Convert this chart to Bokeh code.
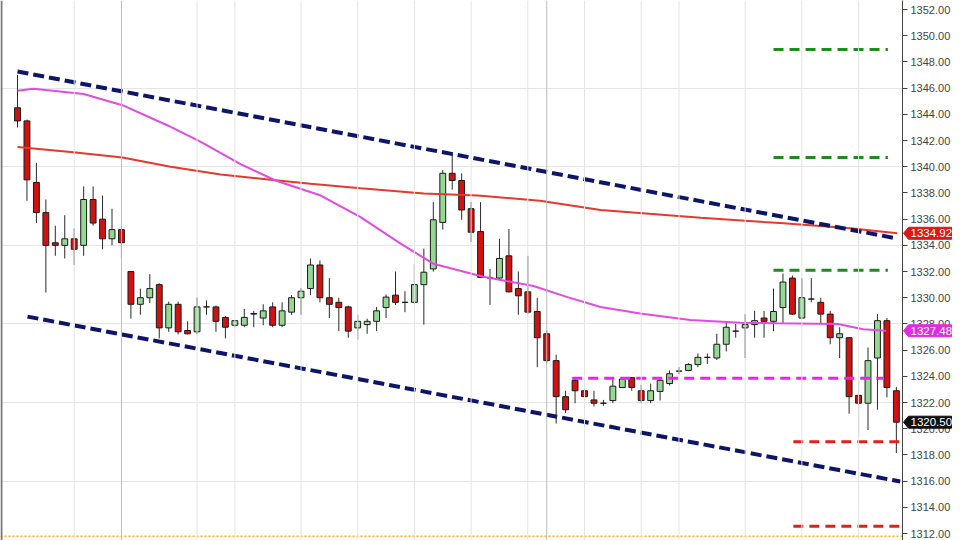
from bokeh.plotting import figure
from bokeh.models import Range1d, FixedTicker, Span, NumeralTickFormatter, GridBox
from bokeh.core.properties import value
from bokeh.embed import file_html
from bokeh.resources import INLINE

# ---- candle data (one candle per bar) ----
opens = [1344.5, 1343.5, 1338.8, 1336.5, 1334.2, 1334.0, 1334.5, 1334.0, 1337.5, 1336.0,
         1334.5, 1335.2, 1332.0, 1329.5, 1330.0, 1331.0, 1327.7, 1329.5, 1327.5, 1327.4,
         1329.3, 1329.3, 1328.5, 1327.9, 1327.9, 1328.75, 1328.45, 1329.3, 1327.9, 1328.9,
         1330.0, 1330.7, 1332.5, 1330.0, 1329.65, 1329.3, 1327.7, 1327.95, 1328.2, 1329.25,
         1330.2, 1329.65, 1329.65, 1331.0, 1332.2, 1335.75, 1339.5, 1338.95, 1336.8, 1335.05,
         1331.55, 1331.5, 1333.2, 1330.7, 1330.45, 1328.95, 1327.25, 1325.2, 1322.45, 1323.7,
         1322.9, 1322.2, 1321.95, 1322.15, 1323.15, 1323.9, 1322.9, 1322.15, 1322.85, 1323.45,
         1324.4, 1324.45, 1324.9, 1325.45, 1325.4, 1326.45, 1327.45, 1327.7, 1327.95, 1328.45,
         1328.2, 1329.25, 1331.5, 1328.45, 1329.9, 1329.65, 1328.75, 1326.95, 1326.95, 1322.55,
         1321.95, 1325.4, 1328.25, 1322.9]
highs = [1347.0, 1343.6, 1340.3, 1337.5, 1335.5, 1336.3, 1335.3, 1338.5, 1338.5, 1337.8,
         1336.8, 1335.5, 1332.0, 1330.7, 1331.8, 1331.1, 1329.7, 1329.7, 1328.2, 1330.0,
         1329.8, 1329.4, 1328.6, 1328.3, 1329.15, 1329.0, 1329.5, 1329.65, 1329.65, 1330.2,
         1330.75, 1333.0, 1332.85, 1331.5, 1330.0, 1329.4, 1328.7, 1328.4, 1329.3, 1330.25,
         1332.0, 1330.5, 1332.55, 1333.75, 1337.3, 1339.75, 1341.0, 1339.5, 1337.3, 1337.3,
         1332.2, 1334.5, 1335.25, 1332.0, 1333.2, 1330.0, 1327.5, 1325.65, 1322.9, 1323.9,
         1323.25, 1322.9, 1322.2, 1323.95, 1323.9, 1323.95, 1323.35, 1323.45, 1323.9, 1324.45,
         1324.7, 1325.0, 1325.75, 1325.75, 1327.25, 1328.15, 1328.0, 1328.75, 1329.0, 1329.0,
         1330.7, 1331.85, 1331.7, 1331.5, 1331.5, 1330.0, 1329.0, 1327.75, 1327.0, 1323.65,
         1326.2, 1328.75, 1328.45, 1323.2]
lows = [1343.0, 1337.4, 1335.7, 1330.4, 1333.2, 1333.0, 1332.5, 1333.2, 1335.5, 1333.7,
        1334.0, 1333.0, 1328.4, 1328.7, 1329.6, 1326.9, 1327.4, 1327.2, 1327.2, 1327.2,
        1328.7, 1327.4, 1326.9, 1327.75, 1327.75, 1327.75, 1327.9, 1327.75, 1327.75, 1328.7,
        1328.7, 1330.2, 1329.65, 1328.45, 1327.45, 1326.95, 1326.8, 1327.25, 1327.45, 1328.45,
        1329.45, 1328.9, 1329.5, 1327.95, 1332.0, 1335.2, 1338.25, 1335.95, 1334.25, 1331.5,
        1329.45, 1331.45, 1330.4, 1328.7, 1328.75, 1324.7, 1325.0, 1320.4, 1321.2, 1321.95,
        1321.95, 1321.7, 1321.75, 1321.95, 1323.15, 1322.9, 1321.95, 1321.95, 1322.15, 1323.3,
        1324.15, 1324.4, 1324.7, 1324.95, 1325.25, 1325.9, 1326.95, 1325.4, 1326.95, 1326.95,
        1327.45, 1328.0, 1328.7, 1328.45, 1329.65, 1328.0, 1326.45, 1325.4, 1321.15, 1319.4,
        1319.9, 1321.45, 1322.4, 1318.15]
closes = [1343.5, 1339.0, 1336.5, 1334.0, 1334.0, 1334.5, 1333.7, 1337.5, 1335.7, 1334.5,
          1335.2, 1334.2, 1329.5, 1330.0, 1330.7, 1327.7, 1329.5, 1327.4, 1327.25, 1329.3,
          1329.3, 1328.2, 1327.75, 1328.25, 1328.5, 1328.8, 1329.0, 1327.9, 1329.0, 1330.0,
          1330.5, 1332.5, 1330.0, 1329.5, 1329.25, 1327.45, 1328.2, 1328.2, 1329.0, 1330.05,
          1329.65, 1329.65, 1331.0, 1331.95, 1335.95, 1339.5, 1338.95, 1336.7, 1335.0, 1331.55,
          1331.5, 1333.0, 1330.45, 1330.15, 1328.9, 1326.95, 1325.2, 1322.45, 1321.45, 1322.9,
          1322.45, 1321.95, 1321.95, 1323.25, 1323.8, 1323.15, 1322.15, 1322.9, 1323.7, 1324.2,
          1324.4, 1324.9, 1325.45, 1325.45, 1326.45, 1327.75, 1327.45, 1327.95, 1328.25, 1328.2,
          1328.95, 1331.2, 1328.75, 1330.0, 1329.9, 1328.75, 1326.95, 1327.25, 1322.45, 1321.95,
          1325.2, 1328.25, 1323.15, 1320.5]

# ---- moving averages (bar index, price) ----
ma_slow_x = [0, 5.9, 11.1, 16.2, 21.5, 26.8, 31.0, 36.3, 43.0, 48.7, 55.3, 61.7, 72.3, 80.7, 88.1, 93.1]
ma_slow_y = [1341.5, 1341.1, 1340.7, 1340.0, 1339.4, 1339.0, 1338.7, 1338.35, 1337.95, 1337.8,
             1337.4, 1336.7, 1336.1, 1335.7, 1335.3, 1334.92]
ma_fast_x = [0, 1.7, 7.0, 11.1, 15.9, 19.4, 23.6, 27.3, 32.1, 36.3, 40.5, 44.0, 49.3, 54.6,
             58.2, 61.7, 65.9, 71.2, 76.5, 80.4, 86.8, 89.5, 91.9]
ma_fast_y = [1345.8, 1345.95, 1345.55, 1344.7, 1343.15, 1341.9, 1340.2, 1338.95, 1337.8, 1336.15,
             1334.15, 1332.6, 1331.6, 1330.9, 1330.05, 1329.3, 1328.8, 1328.3, 1328.1, 1328.05,
             1328.0, 1327.6, 1327.48]

# ---- channel lines ----
upper_x = [0, 93.1]
upper_y = [1347.27, 1334.52]
lower_x = [1.06, 93.4]
lower_y = [1328.56, 1315.97]

# ---- horizontal levels ----
green_levels = [1348.95, 1340.7, 1332.1]
green_span = [80.0, 92.1]
magenta_level = 1323.85
magenta_span = [58.7, 91.6]
red_levels = [1319.0, 1312.55]
red_span = [82.1, 93.6]
orange_level = 1311.8

# ---- axis / grid ----
y_ticks = list(range(1312, 1353, 2))
h_grid = [1316, 1322, 1328, 1334, 1340, 1346]
v_grid = [6, 19, 23, 30, 36, 42, 48, 54, 60, 66, 70, 77, 83, 89]
v_grid_dark = [11, 56]

# ---- last value tags ----
tag_values = [1334.92, 1327.48, 1320.50]
tag_colors = ["#dd1616", "#e02ce0", "#111111"]

X0, X1 = -1.8, 93.65
Y0, Y1 = 1311.47, 1352.69
PX_Y = 540.0 / (Y1 - Y0)

p = figure(width=960, height=540, output_backend="svg", toolbar_location=None,
           x_range=Range1d(X0, X1), y_range=Range1d(Y0, Y1),
           y_axis_location="right", x_axis_location=None,
           min_border_left=0, min_border_top=0, min_border_bottom=0, min_border_right=58)
p.outline_line_color = None
p.background_fill_color = "white"
p.border_fill_color = "white"
p.border_fill_alpha = 0

for g in p.xgrid:
    g.visible = False
p.ygrid.ticker = FixedTicker(ticks=h_grid)
p.ygrid.grid_line_color = "#e4e4e4"
p.ygrid.grid_line_width = 1

for v in v_grid:
    p.add_layout(Span(location=v, dimension="height", line_color="#e4e4e4", line_width=1))
for v in v_grid_dark:
    p.add_layout(Span(location=v, dimension="height", line_color="#bdbdbd", line_width=1))
p.add_layout(Span(location=X0 + 0.1, dimension="height", line_color="#777777", line_width=2))

ax = p.yaxis[0]
ax.ticker = FixedTicker(ticks=y_ticks)
ax.formatter = NumeralTickFormatter(format="0.00")
ax.axis_line_color = "#444444"
ax.major_tick_line_color = "#444444"
ax.major_tick_out = 5
ax.major_tick_in = 0
ax.minor_tick_line_color = None
ax.major_label_text_font = "Liberation Sans"
ax.major_label_text_font_size = "11px"
ax.major_label_text_color = "#444444"
ax.major_label_standoff = 3

# candles
idx = list(range(len(opens)))
tops = [max(o, c) for o, c in zip(opens, closes)]
bots = [min(o, c) for o, c in zip(opens, closes)]
cols = ["#94d894" if c >= o else "#d01212" for o, c in zip(opens, closes)]
p.segment(idx, highs, idx, lows, line_color="#2a2a2a", line_width=1)
p.vbar(x=idx, top=tops, bottom=bots, width=0.62, fill_color=cols, line_color="#1a1a1a", line_width=1)

# moving averages
p.line(ma_slow_x, ma_slow_y, line_color="#e23a2c", line_width=2)
p.line(ma_fast_x, ma_fast_y, line_color="#e04ce0", line_width=2)

# channel
p.line(upper_x, upper_y, line_color="#0d1566", line_width=4, line_dash="11 5")
p.line(lower_x, lower_y, line_color="#0d1566", line_width=4, line_dash="11 5")

# levels
for lv in green_levels:
    p.line(green_span, [lv, lv], line_color="#1f8a1f", line_width=3, line_dash="10 6")
p.line(magenta_span, [magenta_level, magenta_level], line_color="#ee22ee", line_width=3, line_dash="10 6")
for lv in red_levels:
    p.line(red_span, [lv, lv], line_color="#e02020", line_width=3, line_dash="10 6")
p.line([X0, X1], [orange_level, orange_level], line_color="#f0b030", line_width=1.5, line_dash="2 2")

# ---- transparent overlay in the same grid cell; its frame is aligned so that it spans 0..960 px ----
tag = figure(width=1018, height=540, output_backend="svg", toolbar_location=None,
             x_range=Range1d(0, 960), y_range=Range1d(Y0, Y1),
             x_axis_location=None, y_axis_location=None, min_border=0)
tag.outline_line_color = None
tag.background_fill_alpha = 0
tag.border_fill_alpha = 0
tag.grid.visible = False

hh = 6.0 / PX_Y
xs = [[903, 908, 951, 951, 908] for _ in tag_values]
ys = [[v, v + hh, v + hh, v - hh, v - hh] for v in tag_values]
tag.patches(xs, ys, fill_color=tag_colors, line_color=tag_colors, line_width=1)
tag.text(x=[910] * len(tag_values), y=tag_values, text=[f"{v:.2f}" for v in tag_values],
         text_color="white", text_font=value("Liberation Sans"), text_font_size="11.5px",
         text_baseline="middle", text_align="left")

layout = GridBox(children=[(p, 0, 0), (tag, 0, 0)], width=960, height=540)
open("out.html", "w").write(file_html(layout, INLINE))
